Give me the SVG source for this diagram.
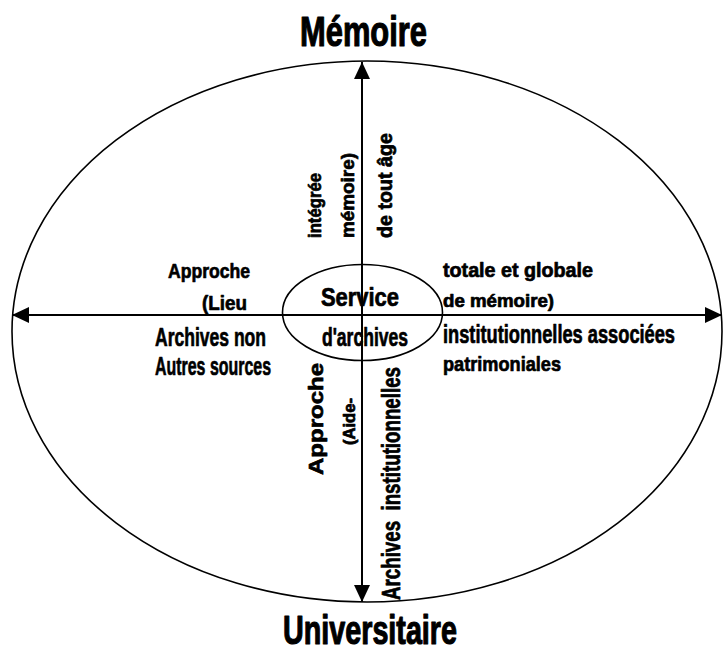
<svg xmlns="http://www.w3.org/2000/svg" width="723" height="652" viewBox="0 0 723 652">
<style>
.t{font-family:"Liberation Sans",Arial,sans-serif;font-weight:bold;fill:#000;stroke:#000;stroke-width:0.7;stroke-linejoin:round}
.big{stroke-width:1.2}
.shape{fill:none;stroke:#000;stroke-width:1.6}
.axis{stroke:#000;stroke-width:2;fill:none}
</style>
<defs>
<marker id="ah" markerUnits="userSpaceOnUse" markerWidth="18" markerHeight="16" refX="17" refY="8" orient="auto">
<path d="M0,0 L17,8 L0,16 Z" fill="#000"/>
</marker>
</defs>
<rect width="723" height="652" fill="#fff"/>
<g id="outer-ellipse">
<ellipse class="shape" cx="367" cy="331.5" rx="355" ry="270.5"/>
</g>
<g id="connectors">
<line class="axis" x1="362" y1="315" x2="362" y2="62" marker-end="url(#ah)"/>
<line class="axis" x1="362" y1="315" x2="362" y2="602" marker-end="url(#ah)"/>
<line class="axis" x1="362" y1="315" x2="12" y2="315" marker-end="url(#ah)"/>
<line class="axis" x1="362" y1="315" x2="722" y2="315" marker-end="url(#ah)"/>
</g>
<g id="service-archives">
<ellipse class="shape" cx="362.5" cy="312.5" rx="80" ry="48"/>
<text class="t" x="321" y="306" font-size="25" textLength="78" lengthAdjust="spacingAndGlyphs">Service</text>
<text class="t" x="322" y="346" font-size="25" textLength="86" lengthAdjust="spacingAndGlyphs">d'archives</text>
</g>
<g id="memoire">
<text class="t big" x="300" y="46" font-size="43" textLength="127" lengthAdjust="spacingAndGlyphs">Mémoire</text>
</g>
<g id="universitaire">
<text class="t big" x="283" y="644" font-size="41" textLength="174" lengthAdjust="spacingAndGlyphs">Universitaire</text>
</g>
<g id="left-labels">
<text class="t" x="168" y="278" font-size="21" textLength="82" lengthAdjust="spacingAndGlyphs">Approche</text>
<text class="t" x="202" y="310" font-size="21" textLength="45" lengthAdjust="spacingAndGlyphs">(Lieu</text>
<text class="t" x="155" y="346" font-size="26" textLength="111" lengthAdjust="spacingAndGlyphs">Archives non</text>
<text class="t" x="155" y="375" font-size="26" textLength="116" lengthAdjust="spacingAndGlyphs">Autres sources</text>
</g>
<g id="right-labels">
<text class="t" x="443" y="277" font-size="20" textLength="150" lengthAdjust="spacingAndGlyphs">totale et globale</text>
<text class="t" x="443" y="307" font-size="18" textLength="111" lengthAdjust="spacingAndGlyphs">de mémoire)</text>
<text class="t" x="443" y="343" font-size="25" textLength="232" lengthAdjust="spacingAndGlyphs">institutionnelles associées</text>
<text class="t" x="443" y="371" font-size="21" textLength="118" lengthAdjust="spacingAndGlyphs">patrimoniales</text>
</g>
<g id="top-labels">
<text class="t" transform="translate(321,238) rotate(-90)" font-size="19" textLength="65" lengthAdjust="spacingAndGlyphs">intégrée</text>
<text class="t" transform="translate(354,238) rotate(-90)" font-size="19" textLength="85" lengthAdjust="spacingAndGlyphs">mémoire)</text>
<text class="t" transform="translate(392,238) rotate(-90)" font-size="20" textLength="105" lengthAdjust="spacingAndGlyphs">de tout âge</text>
</g>
<g id="bottom-labels">
<text class="t" transform="translate(323,475) rotate(-90)" font-size="21" textLength="112" lengthAdjust="spacingAndGlyphs">Approche</text>
<text class="t" transform="translate(355,445) rotate(-90)" font-size="16" textLength="47" lengthAdjust="spacingAndGlyphs">(Aide-</text>
<text class="t" transform="translate(400,600) rotate(-90)" font-size="25" textLength="233" lengthAdjust="spacingAndGlyphs" xml:space="preserve">Archives  institutionnelles</text>
</g>
</svg>
